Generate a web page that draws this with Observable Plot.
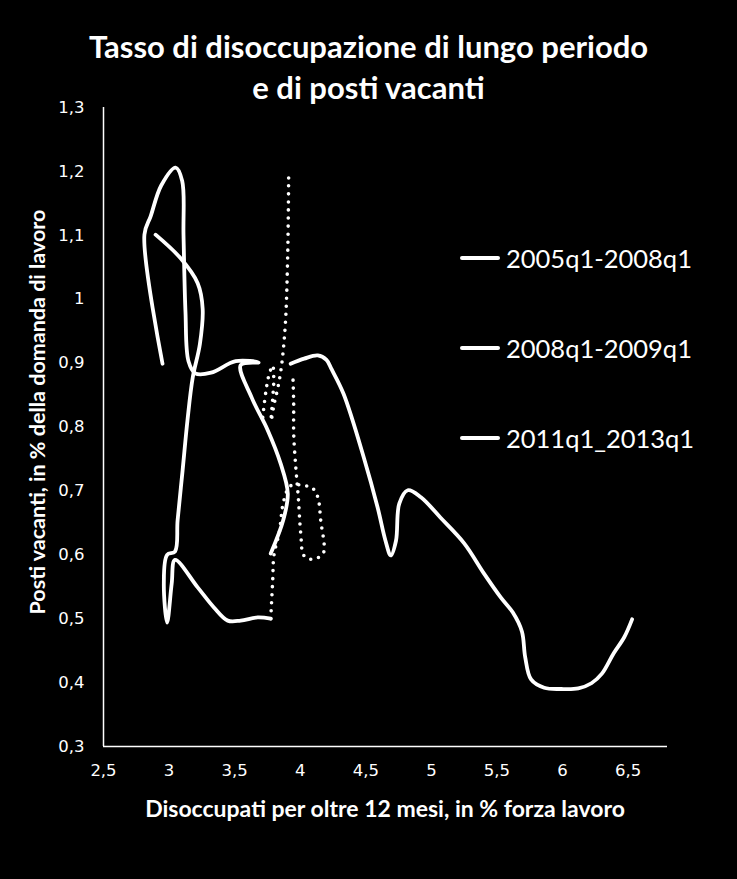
<!DOCTYPE html>
<html>
<head>
<meta charset="utf-8">
<script src="https://cdn.jsdelivr.net/npm/d3@7"></script>
<script src="https://cdn.jsdelivr.net/npm/@observablehq/plot@0.6"></script>
<style>
  html, body { margin: 0; padding: 0; background: #000; }
  #wrap { position: relative; width: 737px; height: 879px; background: #000; color: #fff; overflow: hidden; }
  #title { position: absolute; z-index: 2; left: 0; top: 26px; width: 737px; text-align: center; font-family: Lato, sans-serif; font-weight: bold; font-size: 31px; line-height: 41px; color: #fff; }
  #chart { position: absolute; z-index: 1; left: 0; top: 90px; }
  .lab { position: absolute; z-index: 2; font-family: Lato, sans-serif; font-weight: bold; color: #fff; white-space: nowrap; line-height: 1; }
  #ylab { left: 38px; top: 412px; font-size: 21.5px; transform: translate(-50%, -50%) rotate(-90deg); }
  #xlab { left: 385px; top: 808px; font-size: 23px; transform: translate(-50%, -50%); }
  #legend { position: absolute; z-index: 2; left: 0; top: 0; }
  .leg { position: absolute; left: 460px; height: 30px; display: flex; align-items: center; font-family: Lato, sans-serif; font-size: 25.5px; color: #fff; white-space: nowrap; }
  .leg span.sw { display: inline-block; width: 40px; height: 4px; background: #fff; border-radius: 2px; margin-right: 6px; }
</style>
</head>
<body>
<div id="wrap">
  <div id="chart"></div>
  <div id="title">Tasso di disoccupazione di lungo periodo<br>e di posti vacanti</div>
  <div class="lab" id="ylab">Posti vacanti, in % della domanda di lavoro</div>
  <div class="lab" id="xlab">Disoccupati per oltre 12 mesi, in % forza lavoro</div>
  <div id="legend"></div>
</div>
<script>
// ---- data ----
const xTicks = [2.5, 3, 3.5, 4, 4.5, 5, 5.5, 6, 6.5];
const yTicks = [0.3, 0.4, 0.5, 0.6, 0.7, 0.8, 0.9, 1, 1.1, 1.2, 1.3];

const legendNames = ["2005q1-2008q1", "2008q1-2009q1", "2011q1_2013q1"];

const s1X = [3.775, 3.87, 3.905, 3.85, 3.752, 3.63, 3.546, 3.683, 3.508, 3.32, 3.2, 3.148, 3.125, 3.11, 3.1, 3.05, 2.94, 2.86, 2.812, 2.95];
const s1Y = [0.602, 0.654, 0.696, 0.743, 0.795, 0.846, 0.897, 0.901, 0.903, 0.885, 0.884, 0.903, 0.98, 1.1, 1.185, 1.206, 1.178, 1.13, 1.101, 0.899];

const s2X = [2.897, 3.088, 3.218, 3.256, 3.235, 3.18, 3.14, 3.103, 3.065, 3.045, 2.985, 2.96, 2.985, 3.02, 3.045, 3.218, 3.34, 3.447, 3.546, 3.676, 3.775];
const s2Y = [1.101, 1.064, 1.025, 0.985, 0.93, 0.877, 0.81, 0.732, 0.654, 0.605, 0.6, 0.555, 0.494, 0.555, 0.592, 0.549, 0.518, 0.497, 0.497, 0.502, 0.5];

const s3X = [3.927, 4.03, 4.134, 4.2, 4.24, 4.33, 4.485, 4.59, 4.65, 4.69, 4.73, 4.755, 4.82, 4.92, 5.07, 5.25, 5.4, 5.53, 5.62, 5.69, 5.715, 5.76, 5.86, 5.99, 6.12, 6.22, 6.3, 6.39, 6.47, 6.53];
const s3Y = [0.899, 0.907, 0.912, 0.905, 0.89, 0.852, 0.752, 0.674, 0.622, 0.599, 0.622, 0.68, 0.701, 0.69, 0.658, 0.618, 0.571, 0.533, 0.51, 0.48, 0.44, 0.405, 0.392, 0.39, 0.391, 0.399, 0.414, 0.446, 0.471, 0.499];

// dotted path 2009q1-2011q1 (no legend entry), in two pieces
const dotAX = [3.775, 3.79, 3.8, 3.84, 3.875, 3.927, 4.042, 4.095, 4.134, 4.156, 4.179, 4.14, 4.08, 4.027, 4.004, 3.985, 3.966, 3.95, 3.95, 3.943];
const dotAY = [0.5, 0.56, 0.6, 0.635, 0.685, 0.708, 0.708, 0.704, 0.69, 0.654, 0.604, 0.596, 0.593, 0.599, 0.633, 0.69, 0.737, 0.79, 0.837, 0.885];
const dotBX = [3.714, 3.737, 3.76, 3.79, 3.798, 3.79, 3.778, 3.8, 3.83, 3.852, 3.868, 3.889, 3.905, 3.912];
const dotBY = [0.815, 0.854, 0.88, 0.896, 0.872, 0.845, 0.81, 0.835, 0.862, 0.888, 0.915, 0.97, 1.076, 1.2];

// ---- build tables ----
const solid = [
  ...s1X.map((x, i) => ({x, y: s1Y[i], s: legendNames[0]})),
  ...s2X.map((x, i) => ({x, y: s2Y[i], s: legendNames[1]})),
  ...s3X.map((x, i) => ({x, y: s3Y[i], s: legendNames[2]}))
];
const dotted = [
  ...dotAX.map((x, i) => ({x, y: dotAY[i], s: "a"})),
  ...dotBX.map((x, i) => ({x, y: dotBY[i], s: "b"}))
];

const fmt = d => String(d).replace(".", ",");

const chart = Plot.plot({
  width: 737,
  height: 789,
  marginTop: 17,
  marginLeft: 103,
  marginRight: 70,
  marginBottom: 133,
  style: {background: "transparent", color: "#fff", fontFamily: "'DejaVu Sans', sans-serif", overflow: "visible"},
  x: {domain: [2.5, 6.8], label: null},
  y: {domain: [0.3, 1.3], label: null},
  marks: [
    Plot.axisX({ticks: xTicks, tickFormat: fmt, tickSize: 0, tickPadding: 18, fill: "#fff", fontSize: 16.5, label: null}),
    Plot.axisY({ticks: yTicks, tickFormat: fmt, tickSize: 0, tickPadding: 19, fill: "#fff", fontSize: 16.5, label: null}),
    Plot.ruleX([2.5], {stroke: "#fff", strokeWidth: 1.5}),
    Plot.ruleY([0.3], {stroke: "#fff", strokeWidth: 1.5}),
    Plot.line(dotted, {x: "x", y: "y", z: "s", stroke: "#fff", strokeWidth: 3.6, strokeDasharray: "0 8", strokeLinecap: "round", curve: "catmull-rom"}),
    Plot.line(solid, {x: "x", y: "y", z: "s", stroke: "#fff", strokeWidth: 3.8, strokeLinecap: "round", strokeLinejoin: "round", curve: "catmull-rom"})
  ]
});
document.getElementById("chart").appendChild(chart);

const legTops = [243, 333, 423];
const leg = document.getElementById("legend");
legendNames.forEach((n, i) => {
  const d = document.createElement("div");
  d.className = "leg";
  d.style.top = legTops[i] + "px";
  d.innerHTML = '<span class="sw"></span>' + n;
  leg.appendChild(d);
});
</script>
</body>
</html>
